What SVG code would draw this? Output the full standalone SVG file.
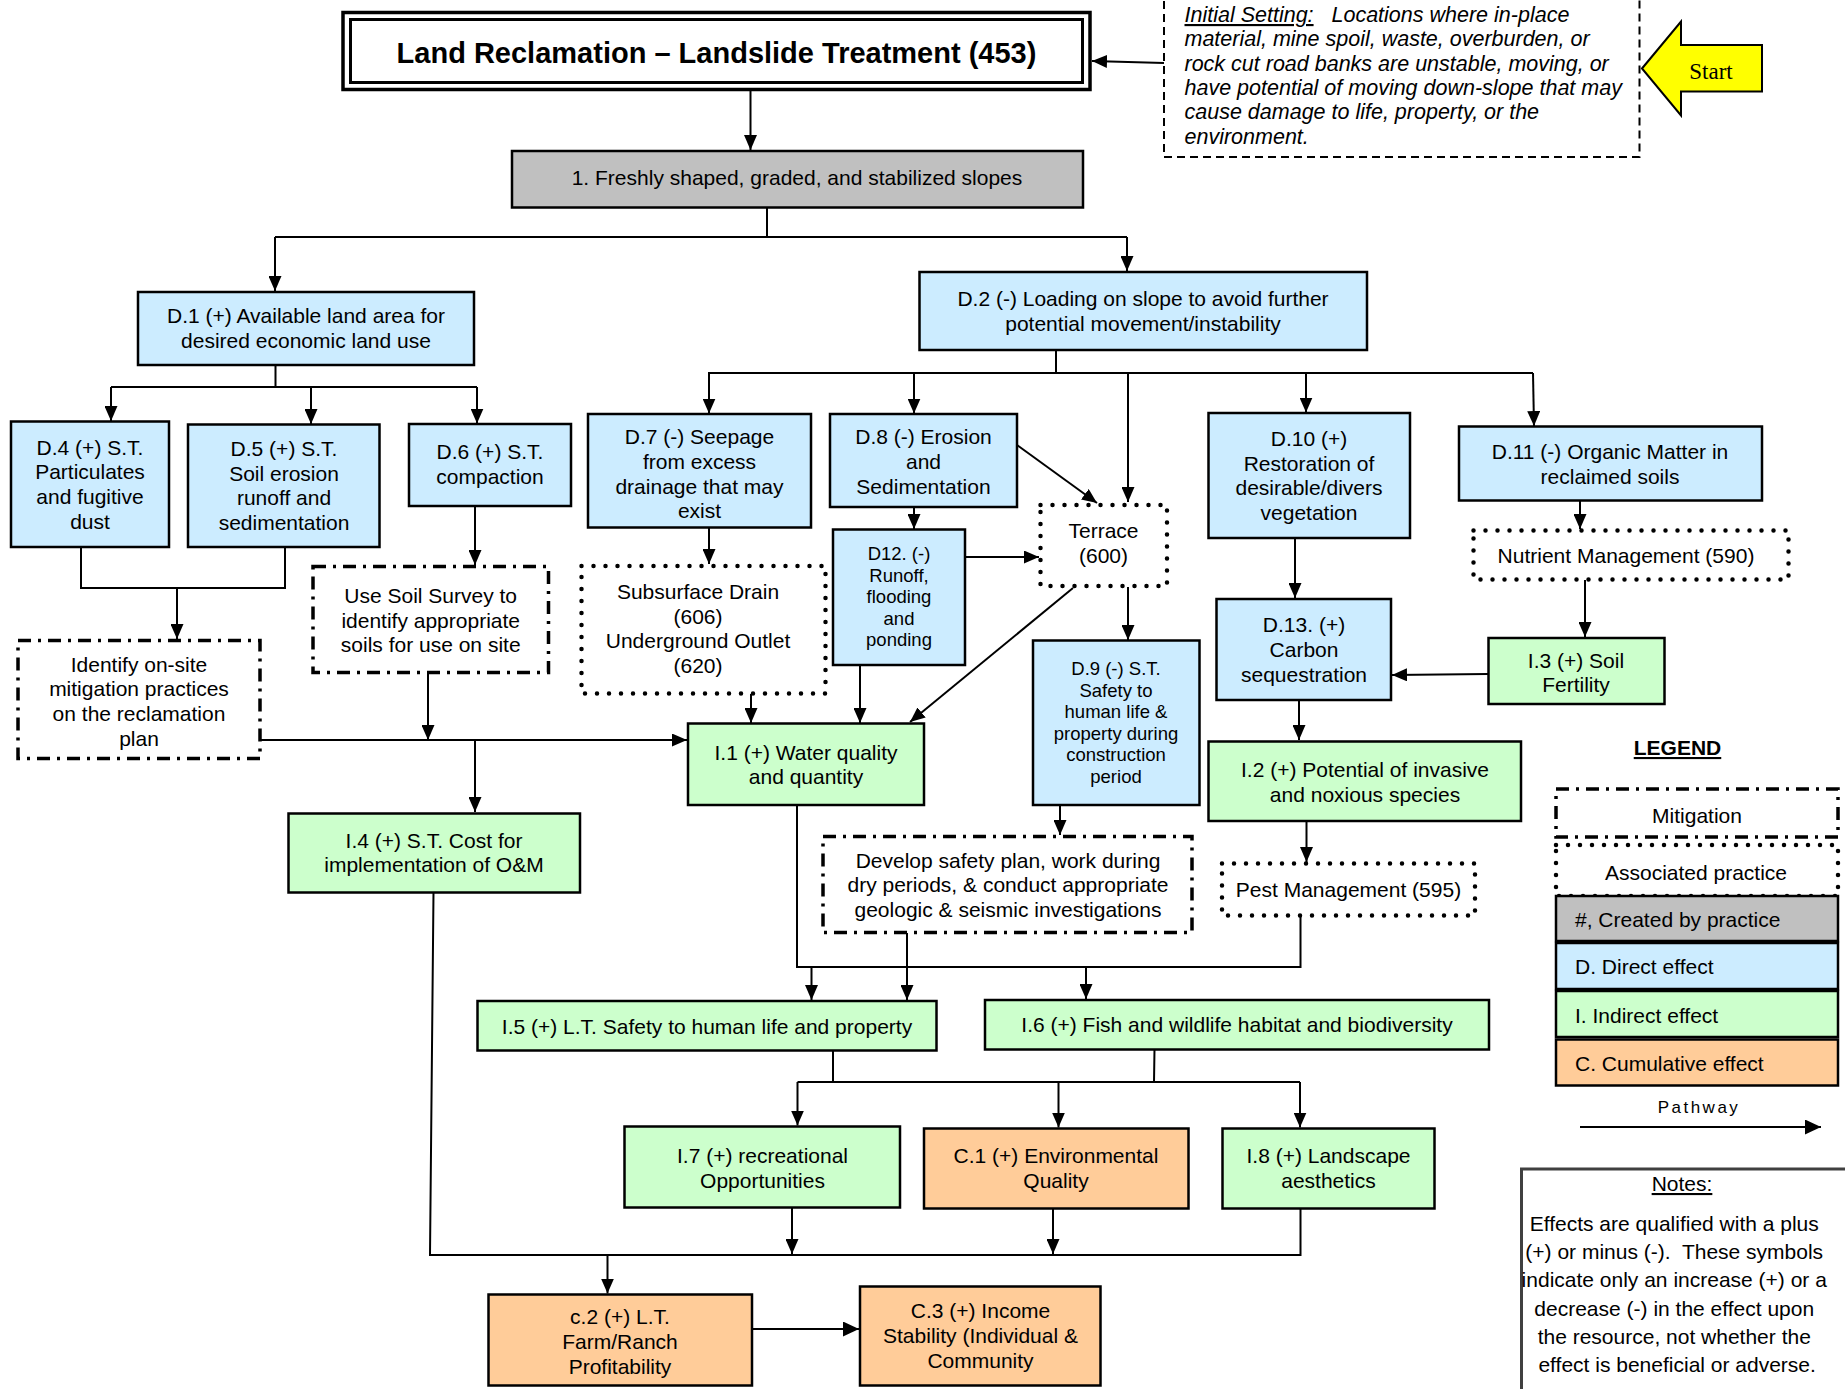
<svg xmlns="http://www.w3.org/2000/svg" width="1845" height="1389" viewBox="0 0 1845 1389">
<defs>
<style>
 .bx{stroke:#000;stroke-width:2.5}
 .d{fill:#CCECFF}
 .i{fill:#CCFFCC}
 .c{fill:#FFCC99}
 .g{fill:#C0C0C0}
 .dot{fill:#fff;stroke:#000;stroke-width:4.5;stroke-dasharray:0 12;stroke-linecap:round}
 .dd{fill:#fff;stroke:#000;stroke-width:3.5;stroke-dasharray:13 7 3 7}
 text{font-family:"Liberation Sans",Arial,sans-serif;font-size:21px;fill:#000}
 .t{text-anchor:middle}
 .s{font-size:18.5px}
 .ttl{font-size:29px;font-weight:bold}
 .it{font-style:italic;font-size:21.5px}
 .srf{font-family:"Liberation Serif","Times New Roman",serif;font-size:23px}
 .pw{font-size:17px;letter-spacing:2.5px}
 .ln{fill:none;stroke:#000;stroke-width:2}
 .ar{fill:none;stroke:#000;stroke-width:2;marker-end:url(#ah)}
</style>
<marker id="ah" markerUnits="userSpaceOnUse" markerWidth="15" markerHeight="13" viewBox="0 0 15 13" refX="15" refY="6.5" orient="auto"><path d="M0,0L15,6.5L0,13z"/></marker>
<marker id="ah2" markerUnits="userSpaceOnUse" markerWidth="16" markerHeight="15" viewBox="0 0 16 15" refX="16" refY="7.5" orient="auto"><path d="M0,0L16,7.5L0,15z"/></marker>
</defs>
<rect x="0" y="0" width="1845" height="1389" fill="#fff"/>

<!-- connectors -->
<g id="connectors">
 <path class="ar" d="M750.5,90V150"/>
 <path class="ar" d="M1164,63L1092,61"/>
 <path class="ln" d="M767,207V237M275,237H1127"/>
 <path class="ar" d="M275,237V291"/>
 <path class="ar" d="M1127,237V271"/>
 <path class="ln" d="M275.5,365V387M111,387H477"/>
 <path class="ar" d="M111,387V421"/>
 <path class="ar" d="M311,387V424"/>
 <path class="ar" d="M477,387V423.5"/>
 <path class="ln" d="M1056,350V373M708,373H1533"/>
 <path class="ar" d="M709,373V413.5"/>
 <path class="ar" d="M914,373V413.5"/>
 <path class="ar" d="M1128,373V502"/>
 <path class="ar" d="M1306,373V412.5"/>
 <path class="ar" d="M1533,373L1534,426"/>
 <path class="ln" d="M81,547V588H285V547"/>
 <path class="ar" d="M177,588V639"/>
 <path class="ar" d="M475,506V565"/>
 <path class="ar" d="M709,528V564"/>
 <path class="ar" d="M914,507V529"/>
 <path class="ar" d="M1017,445L1097,503"/>
 <path class="ar" d="M965,557H1039"/>
 <path class="ar" d="M1128,587V640"/>
 <path class="ar" d="M1073,588L910,722"/>
 <path class="ar" d="M860,665V723"/>
 <path class="ar" d="M751,694V723"/>
 <path class="ar" d="M428,674V740"/>
 <path class="ar" d="M260,740H687"/>
 <path class="ar" d="M475,741V812"/>
 <path class="ar" d="M1295,538V598"/>
 <path class="ar" d="M1580,500V529"/>
 <path class="ar" d="M1585,580V637"/>
 <path class="ar" d="M1488,674L1392,675"/>
 <path class="ar" d="M1299,700V740"/>
 <path class="ar" d="M1306.5,821V862"/>
 <path class="ar" d="M1060,805V835"/>
 <path class="ln" d="M797,805V967H1300.5V916"/>
 <path class="ar" d="M811.5,967V1000"/>
 <path class="ar" d="M1086,967V999"/>
 <path class="ar" d="M907,933V1000"/>
 <path class="ln" d="M833,1050V1082M797.5,1082H1300M1154.5,1049L1154,1082"/>
 <path class="ar" d="M797.5,1082V1125.5"/>
 <path class="ar" d="M1058.5,1082V1127.5"/>
 <path class="ar" d="M1300,1082V1127.5"/>
 <path class="ln" d="M433.5,892L430,1255H1300.5V1208"/>
 <path class="ar" d="M792,1208V1254"/>
 <path class="ar" d="M1053,1208V1254"/>
 <path class="ar" d="M607.5,1255V1293.5"/>
 <path class="ln" d="M752,1329H859" marker-end="url(#ah2)"/>
</g>

<!-- title -->
<g id="n-title">
 <rect x="343" y="12.5" width="747" height="77" fill="#fff" stroke="#000" stroke-width="3.5"/>
 <rect x="350.5" y="19.5" width="732" height="63" fill="none" stroke="#000" stroke-width="3"/>
 <text class="t ttl" x="716.5" y="63">Land Reclamation – Landslide Treatment (453)</text>
</g>

<g id="n-initial">
 <rect x="1164" y="-5" width="475.5" height="162" fill="#fff" stroke="#000" stroke-width="2" stroke-dasharray="8 5"/>
 <text class="it">
  <tspan x="1184.5" y="22" text-decoration="underline">Initial Setting:</tspan><tspan x="1331.5" y="22">Locations where in-place</tspan>
  <tspan x="1184.5" y="46.3">material, mine spoil, waste, overburden, or</tspan>
  <tspan x="1184.5" y="70.6">rock cut road banks are unstable, moving, or</tspan>
  <tspan x="1184.5" y="94.9">have potential of moving down-slope that may</tspan>
  <tspan x="1184.5" y="119.2">cause damage to life, property, or the</tspan>
  <tspan x="1184.5" y="143.5">environment.</tspan>
 </text>
</g>

<g id="n-start">
 <path d="M1642,68.5L1681,21.5V45H1762V91.5H1681V115.5Z" fill="#FFFF00" stroke="#000" stroke-width="2"/>
 <text class="t srf" x="1711" y="79">Start</text>
</g>

<g id="n-1">
 <rect class="bx g" x="512" y="151" width="571" height="56.5"/>
 <text class="t" x="797" y="185">1. Freshly shaped, graded, and stabilized slopes</text>
</g>

<g id="n-d1">
 <rect class="bx d" x="138" y="292" width="336" height="73"/>
 <text class="t"><tspan x="306" y="322.9">D.1 (+) Available land area for</tspan><tspan x="306" y="347.6">desired economic land use</tspan></text>
</g>
<g id="n-d2">
 <rect class="bx d" x="919.5" y="272" width="447.5" height="78"/>
 <text class="t"><tspan x="1143" y="305.8">D.2 (-) Loading on slope to avoid further</tspan><tspan x="1143" y="330.5">potential movement/instability</tspan></text>
</g>
<g id="n-d4">
 <rect class="bx d" x="11" y="421.5" width="158" height="125.5"/>
 <text class="t"><tspan x="90" y="454.7">D.4 (+) S.T.</tspan><tspan x="90" y="479.4">Particulates</tspan><tspan x="90" y="504.1">and fugitive</tspan><tspan x="90" y="528.8">dust</tspan></text>
</g>
<g id="n-d5">
 <rect class="bx d" x="188" y="424.5" width="191.5" height="122.5"/>
 <text class="t"><tspan x="284" y="455.9">D.5 (+) S.T.</tspan><tspan x="284" y="480.6">Soil erosion</tspan><tspan x="284" y="505.3">runoff and</tspan><tspan x="284" y="530">sedimentation</tspan></text>
</g>
<g id="n-d6">
 <rect class="bx d" x="409" y="424" width="162" height="82"/>
 <text class="t"><tspan x="490" y="459.4">D.6 (+) S.T.</tspan><tspan x="490" y="484.1">compaction</tspan></text>
</g>
<g id="n-d7">
 <rect class="bx d" x="588" y="414" width="223" height="113.5"/>
 <text class="t"><tspan x="699.5" y="444.1">D.7 (-) Seepage</tspan><tspan x="699.5" y="468.8">from excess</tspan><tspan x="699.5" y="493.5">drainage that may</tspan><tspan x="699.5" y="518.2">exist</tspan></text>
</g>
<g id="n-d8">
 <rect class="bx d" x="830" y="414" width="187" height="93"/>
 <text class="t"><tspan x="923.5" y="444.1">D.8 (-) Erosion</tspan><tspan x="923.5" y="468.8">and</tspan><tspan x="923.5" y="493.5">Sedimentation</tspan></text>
</g>
<g id="n-d12">
 <rect class="bx d" x="833" y="529.5" width="132" height="135.5"/>
 <text class="t s"><tspan x="899" y="560.1">D12. (-)</tspan><tspan x="899" y="581.6">Runoff,</tspan><tspan x="899" y="603.1">flooding</tspan><tspan x="899" y="624.6">and</tspan><tspan x="899" y="646.1">ponding</tspan></text>
</g>
<g id="n-terrace">
 <rect class="dot" x="1040.5" y="505" width="126.5" height="81"/>
 <text class="t"><tspan x="1103.5" y="538.2">Terrace</tspan><tspan x="1103.5" y="562.9">(600)</tspan></text>
</g>
<g id="n-d9">
 <rect class="bx d" x="1033" y="640.5" width="166.5" height="164.5"/>
 <text class="t s"><tspan x="1116" y="675.3">D.9 (-) S.T.</tspan><tspan x="1116" y="696.8">Safety to</tspan><tspan x="1116" y="718.3">human life &amp;</tspan><tspan x="1116" y="739.8">property during</tspan><tspan x="1116" y="761.3">construction</tspan><tspan x="1116" y="782.8">period</tspan></text>
</g>
<g id="n-d10">
 <rect class="bx d" x="1208.5" y="413" width="201.5" height="125"/>
 <text class="t"><tspan x="1309" y="445.9">D.10 (+)</tspan><tspan x="1309" y="470.6">Restoration of</tspan><tspan x="1309" y="495.3">desirable/divers</tspan><tspan x="1309" y="520">vegetation</tspan></text>
</g>
<g id="n-d11">
 <rect class="bx d" x="1459" y="426.5" width="303" height="74"/>
 <text class="t"><tspan x="1610" y="459.4">D.11 (-) Organic Matter in</tspan><tspan x="1610" y="484.1">reclaimed soils</tspan></text>
</g>
<g id="n-nutrient">
 <rect class="dot" x="1473.5" y="530.5" width="315" height="49"/>
 <text class="t" x="1626" y="562.9">Nutrient Management (590)</text>
</g>
<g id="n-d13">
 <rect class="bx d" x="1216.5" y="599" width="174.5" height="101"/>
 <text class="t"><tspan x="1304" y="632.3">D.13. (+)</tspan><tspan x="1304" y="657">Carbon</tspan><tspan x="1304" y="681.7">sequestration</tspan></text>
</g>
<g id="n-i3">
 <rect class="bx i" x="1488.5" y="638" width="176" height="66"/>
 <text class="t"><tspan x="1576" y="667.7">I.3 (+) Soil</tspan><tspan x="1576" y="692.4">Fertility</tspan></text>
</g>
<g id="n-i2">
 <rect class="bx i" x="1208.5" y="741.5" width="312.5" height="79.5"/>
 <text class="t"><tspan x="1365" y="777.1">I.2 (+) Potential of invasive</tspan><tspan x="1365" y="801.8">and noxious species</tspan></text>
</g>
<g id="n-pest">
 <rect class="dot" x="1222" y="863.5" width="253" height="52"/>
 <text class="t" x="1348.5" y="897.1">Pest Management (595)</text>
</g>
<g id="n-develop">
 <rect class="dd" x="823" y="836.5" width="369" height="96"/>
 <text class="t"><tspan x="1008" y="867.7">Develop safety plan, work during</tspan><tspan x="1008" y="892.4">dry periods, &amp; conduct appropriate</tspan><tspan x="1008" y="917.1">geologic &amp; seismic investigations</tspan></text>
</g>
<g id="n-soilsurvey">
 <rect class="dd" x="313" y="566.5" width="235.5" height="106"/>
 <text class="t"><tspan x="430.7" y="602.9">Use Soil Survey to</tspan><tspan x="430.7" y="627.6">identify appropriate</tspan><tspan x="430.7" y="652.3">soils for use on site</tspan></text>
</g>
<g id="n-identify">
 <rect class="dd" x="18" y="640.5" width="242" height="118"/>
 <text class="t"><tspan x="139" y="671.7">Identify on-site</tspan><tspan x="139" y="696.4">mitigation practices</tspan><tspan x="139" y="721.1">on the reclamation</tspan><tspan x="139" y="745.8">plan</tspan></text>
</g>
<g id="n-subsurface">
 <rect class="dot" x="581.5" y="566" width="244" height="127.5"/>
 <text class="t"><tspan x="698" y="598.8">Subsurface Drain</tspan><tspan x="698" y="623.5">(606)</tspan><tspan x="698" y="648.2">Underground Outlet</tspan><tspan x="698" y="672.9">(620)</tspan></text>
</g>
<g id="n-i1">
 <rect class="bx i" x="688" y="723.5" width="236" height="81.5"/>
 <text class="t"><tspan x="806" y="759.5">I.1 (+) Water quality</tspan><tspan x="806" y="784.2">and quantity</tspan></text>
</g>
<g id="n-i4">
 <rect class="bx i" x="288.5" y="813.5" width="291.5" height="79"/>
 <text class="t"><tspan x="434" y="847.7">I.4 (+) S.T. Cost for</tspan><tspan x="434" y="872.4">implementation of O&amp;M</tspan></text>
</g>
<g id="n-i5">
 <rect class="bx i" x="477.5" y="1001" width="459" height="49.5"/>
 <text class="t" x="707" y="1033.6">I.5 (+) L.T. Safety to human life and property</text>
</g>
<g id="n-i6">
 <rect class="bx i" x="985" y="1000" width="504" height="49.5"/>
 <text class="t" x="1237" y="1032.4">I.6 (+) Fish and wildlife habitat and biodiversity</text>
</g>
<g id="n-i7">
 <rect class="bx i" x="624.5" y="1126.5" width="275.5" height="81"/>
 <text class="t"><tspan x="762.5" y="1163.1">I.7 (+) recreational</tspan><tspan x="762.5" y="1187.8">Opportunities</tspan></text>
</g>
<g id="n-c1">
 <rect class="bx c" x="924" y="1128.5" width="264.5" height="80"/>
 <text class="t"><tspan x="1056" y="1163.1">C.1 (+) Environmental</tspan><tspan x="1056" y="1187.8">Quality</tspan></text>
</g>
<g id="n-i8">
 <rect class="bx i" x="1222.5" y="1128.5" width="212" height="80"/>
 <text class="t"><tspan x="1328.5" y="1163.1">I.8 (+) Landscape</tspan><tspan x="1328.5" y="1187.8">aesthetics</tspan></text>
</g>
<g id="n-c2">
 <rect class="bx c" x="488.5" y="1294.5" width="263.5" height="91"/>
 <text class="t"><tspan x="620" y="1324.2">c.2 (+) L.T.</tspan><tspan x="620" y="1348.9">Farm/Ranch</tspan><tspan x="620" y="1373.6">Profitability</tspan></text>
</g>
<g id="n-c3">
 <rect class="bx c" x="860" y="1286.5" width="240.5" height="99"/>
 <text class="t"><tspan x="980.5" y="1318.4">C.3 (+) Income</tspan><tspan x="980.5" y="1343.1">Stability (Individual &amp;</tspan><tspan x="980.5" y="1367.8">Community</tspan></text>
</g>

<!-- legend -->
<g id="legend">
 <text class="t" x="1677.5" y="755" style="font-weight:bold" text-decoration="underline">LEGEND</text>
 <rect class="dd" x="1556" y="789" width="282" height="48"/>
 <text class="t" x="1697" y="822.6">Mitigation</text>
 <rect class="dot" x="1556" y="845" width="282" height="51"/>
 <text class="t" x="1696" y="880">Associated practice</text>
 <rect class="bx g" x="1556" y="896" width="282" height="45"/>
 <text x="1575" y="927">#, Created by practice</text>
 <rect class="bx d" x="1556" y="943" width="282" height="46"/>
 <text x="1575" y="974">D. Direct effect</text>
 <rect class="bx i" x="1556" y="991" width="282" height="46"/>
 <text x="1575" y="1022.6">I. Indirect effect</text>
 <rect class="bx c" x="1556" y="1039.5" width="282" height="46"/>
 <text x="1575" y="1070.6">C. Cumulative effect</text>
 <text class="t pw" x="1699" y="1113">Pathway</text>
 <path class="ln" d="M1580,1127H1821" marker-end="url(#ah2)"/>
</g>

<g id="notes">
 <rect x="1521.5" y="1169" width="340" height="240" fill="#fff" stroke="#404040" stroke-width="3"/>
 <text class="t" x="1682" y="1191" text-decoration="underline">Notes:</text>
 <text class="t" style="white-space:pre">
  <tspan x="1683" y="1231">Effects are qualified with a plus</tspan>
  <tspan x="1683" y="1259">(+) or minus (-).  These symbols</tspan>
  <tspan x="1683" y="1287">indicate only an increase (+) or a</tspan>
  <tspan x="1683" y="1315.5">decrease (-) in the effect upon</tspan>
  <tspan x="1683" y="1343.5">the resource, not whether the</tspan>
  <tspan x="1683" y="1371.5">effect is beneficial or adverse.</tspan>
 </text>
</g>
</svg>
